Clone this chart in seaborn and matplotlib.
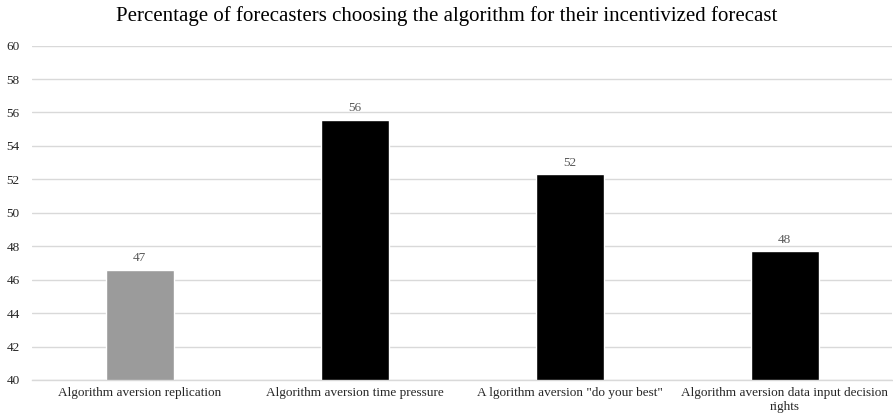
import matplotlib
matplotlib.use("Agg")
import matplotlib.pyplot as plt
import seaborn as sns
import pandas as pd

categories = [
    "Algorithm aversion replication",
    "Algorithm aversion time pressure",
    "A lgorithm aversion \"do your best\"",
    "Algorithm aversion data input decision\nrights",
]
values = [46.6, 55.55, 52.3, 47.7]
bar_colors = ["#9b9b9b", "#000000", "#000000", "#000000"]
yticks = [40, 42, 44, 46, 48, 50, 52, 54, 56, 58, 60]
title = "Percentage of forecasters choosing the algorithm for their incentivized forecast"

sns.set_theme(style="white")
plt.rcParams["font.family"] = ["Liberation Serif", "DejaVu Serif"]

df = pd.DataFrame({"cat": categories, "val": values})

fig = plt.figure(figsize=(8.93, 4.18), dpi=100)
ax = fig.add_axes([0.036, 0.091, 0.963, 0.800])

sns.barplot(data=df, x="cat", y="val", hue="cat", palette=bar_colors,
            legend=False, width=0.316, ax=ax, saturation=1)

ax.set_ylim(40, 60)
ax.set_yticks(yticks)
ax.set_yticklabels([str(t) for t in yticks], fontsize=9.5, color="#262626")
ax.tick_params(axis="x", labelsize=9.5, colors="#262626", length=0, pad=5)
ax.tick_params(axis="y", length=0, pad=9)
ax.yaxis.grid(True, color="#d9d9d9", linewidth=1)
ax.set_axisbelow(True)
for s in ["top", "right", "left"]:
    ax.spines[s].set_visible(False)
ax.spines["bottom"].set_color("#d9d9d9")
ax.spines["bottom"].set_linewidth(1)
ax.set_xlabel("")
ax.set_ylabel("")

for cont in ax.containers:
    ax.bar_label(cont, labels=[f"{v:.0f}" for v in cont.datavalues],
                 padding=4, fontsize=9.5, color="#595959")

fig.suptitle(title, y=0.985, fontsize=15, color="#000000")

fig.savefig("out.png", dpi=100)
